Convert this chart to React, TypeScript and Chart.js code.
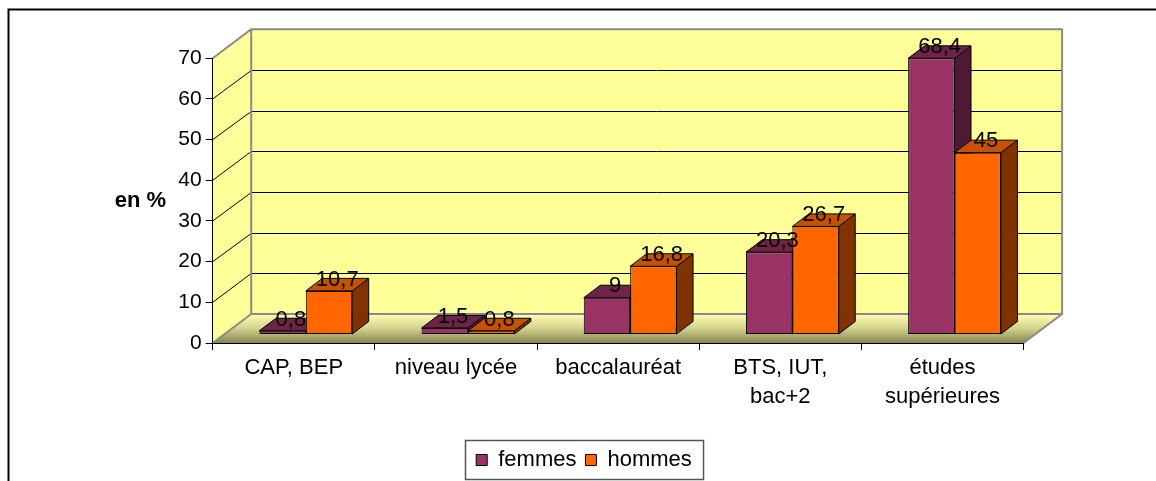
import React, { useEffect, useRef } from "react";
import { Chart, registerables } from "chart.js";

Chart.register(...registerables);

// ---- data ----
const categories: (string | string[])[] = [
  "CAP, BEP",
  "niveau lycée",
  "baccalauréat",
  ["BTS, IUT,", "bac+2"],
  ["études", "supérieures"],
];
const femmes = [0.8, 1.5, 9, 20.3, 68.4];
const hommes = [10.7, 0.8, 16.8, 26.7, 45];
const seriesNames = ["femmes", "hommes"];
const yTickMin = 0;
const yTickMax = 70;
const yTickStep = 10;
const yTitle = "en %";

// ---- styles ----
const FONT = "'Liberation Sans', Arial, sans-serif";
const frontColors = ["#993366", "#FF6600"];
const topColors = ["#6E2449", "#C65200"];
const sideColors = ["#4D1A35", "#803300"];
const WALL_DX = 38.5;
const WALL_DY = -29;
const BAR_SHIFT = 12;
const BAR_DX = 16.5;
const BAR_DY = -12.5;

function poly(ctx: CanvasRenderingContext2D, pts: number[][]) {
  ctx.beginPath();
  ctx.moveTo(pts[0][0], pts[0][1]);
  for (let i = 1; i < pts.length; i++) ctx.lineTo(pts[i][0], pts[i][1]);
  ctx.closePath();
}

const fmt = (v: number) => String(v).replace(".", ",");

const excel3d = {
  id: "excel3d",
  beforeDraw(chart: any) {
    const { ctx, chartArea: a, scales } = chart;
    const y = scales.y;
    const L = a.left;
    const R = a.right;
    const B = y.getPixelForValue(yTickMin);
    const T = y.getPixelForValue(yTickMax);
    ctx.save();
    // outer frame
    ctx.strokeStyle = "#000";
    ctx.lineWidth = 2;
    ctx.beginPath();
    ctx.moveTo(8.5, chart.height + 2);
    ctx.lineTo(8.5, 9.5);
    ctx.lineTo(chart.width + 2, 9.5);
    ctx.stroke();

    // walls
    ctx.fillStyle = "#FFFF99";
    poly(ctx, [[L + WALL_DX, T + WALL_DY], [R + WALL_DX, T + WALL_DY], [R + WALL_DX, B + WALL_DY], [L + WALL_DX, B + WALL_DY]]);
    ctx.fill();
    poly(ctx, [[L, B], [L, T], [L + WALL_DX, T + WALL_DY], [L + WALL_DX, B + WALL_DY]]);
    ctx.fill();
    // floor
    const g = ctx.createLinearGradient(0, B + WALL_DY, 0, B);
    g.addColorStop(0, "#FFFFB4");
    g.addColorStop(0.5, "#D2D28C");
    g.addColorStop(1, "#858554");
    ctx.fillStyle = g;
    poly(ctx, [[L, B], [R, B], [R + WALL_DX, B + WALL_DY], [L + WALL_DX, B + WALL_DY]]);
    ctx.fill();

    // grid lines
    ctx.strokeStyle = "#000";
    ctx.lineWidth = 1;
    for (let v = yTickMin + yTickStep; v < yTickMax; v += yTickStep) {
      const py = y.getPixelForValue(v);
      const by = Math.round(py + WALL_DY) + 0.5;
      ctx.beginPath();
      ctx.moveTo(L, py);
      ctx.lineTo(L + WALL_DX, by);
      ctx.lineTo(R + WALL_DX, by);
      ctx.stroke();
    }
    // wall edges
    ctx.strokeStyle = "#8A8A8A";
    ctx.lineWidth = 2;
    ctx.beginPath();
    ctx.moveTo(L, T);
    ctx.lineTo(L + WALL_DX, T + WALL_DY);
    ctx.lineTo(R + WALL_DX, T + WALL_DY);
    ctx.lineTo(R + WALL_DX, B + WALL_DY);
    ctx.lineTo(R, B);
    ctx.moveTo(L + WALL_DX, T + WALL_DY);
    ctx.lineTo(L + WALL_DX, B + WALL_DY);
    ctx.lineTo(R + WALL_DX, B + WALL_DY);
    ctx.moveTo(L, B);
    ctx.lineTo(L + WALL_DX, B + WALL_DY);
    ctx.stroke();
    ctx.restore();
  },
  beforeDatasetsDraw(chart: any) {
    const ctx = chart.ctx;
    ctx.save();
    ctx.strokeStyle = "#000";
    ctx.lineWidth = 1;
    chart.data.datasets.forEach((_ds: any, di: number) => {
      const meta = chart.getDatasetMeta(di);
      meta.data.forEach((el: any) => {
        const { x, y, base, width } = el.getProps(["x", "y", "base", "width"], true);
        const l = x - width / 2 + BAR_SHIFT;
        const r = x + width / 2 + BAR_SHIFT;
        ctx.fillStyle = sideColors[di];
        poly(ctx, [[r, y], [r + BAR_DX, y + BAR_DY], [r + BAR_DX, base + BAR_DY], [r, base]]);
        ctx.fill();
        ctx.stroke();
        ctx.fillStyle = topColors[di];
        poly(ctx, [[l, y], [r, y], [r + BAR_DX, y + BAR_DY], [l + BAR_DX, y + BAR_DY]]);
        ctx.fill();
        ctx.stroke();
      });
    });
    ctx.restore();
    ctx.save();
    ctx.translate(BAR_SHIFT, 0);
  },
  afterDatasetsDraw(chart: any) {
    const ctx = chart.ctx;
    ctx.restore();
    ctx.save();
    ctx.fillStyle = "#000";
    ctx.font = `22px ${FONT}`;
    ctx.textAlign = "center";
    ctx.textBaseline = "alphabetic";
    chart.data.datasets.forEach((ds: any, di: number) => {
      const meta = chart.getDatasetMeta(di);
      meta.data.forEach((el: any, i: number) => {
        const { x, y } = el.getProps(["x", "y"], true);
        ctx.fillText(fmt(ds.data[i]), x + BAR_SHIFT + BAR_DX / 2, y + BAR_DY / 2 + 1);
      });
    });
    ctx.restore();
  },
  afterDraw(chart: any) {
    const ctx = chart.ctx;
    ctx.save();
    // y title
    ctx.fillStyle = "#000";
    ctx.font = `bold 22px ${FONT}`;
    ctx.textAlign = "center";
    ctx.textBaseline = "alphabetic";
    ctx.fillText(yTitle, 140.5, 207);
    // legend border
    const lg = chart.legend;
    if (lg && lg.legendHitBoxes && lg.legendHitBoxes.length) {
      const hb = lg.legendHitBoxes;
      const first = hb[0];
      const last = hb[hb.length - 1];
      const left = Math.round(first.left - 11) + 0.5;
      const right = Math.round(last.left + last.width + 11) + 0.5;
      ctx.strokeStyle = "#555";
      ctx.lineWidth = 1.5;
      ctx.strokeRect(left, Math.round(lg.top) + 0.5, right - left, 39);
    }
    ctx.restore();
  },
};

export default function App() {
  const ref = useRef<HTMLCanvasElement | null>(null);
  useEffect(() => {
    if (!ref.current) return;
    const chart = new Chart(ref.current, {
      type: "bar",
      data: {
        labels: categories as any,
        datasets: [
          {
            label: seriesNames[0],
            data: femmes,
            backgroundColor: frontColors[0],
            borderColor: "#000",
            borderWidth: 1,
            borderSkipped: false,
            yAxisID: "yBar",
            xAxisID: "x",
            barPercentage: 1,
            categoryPercentage: 0.572,
            clip: false as any,
          },
          {
            label: seriesNames[1],
            data: hommes,
            backgroundColor: frontColors[1],
            borderColor: "#000",
            borderWidth: 1,
            borderSkipped: false,
            yAxisID: "yBar",
            xAxisID: "x",
            barPercentage: 1,
            categoryPercentage: 0.572,
            clip: false as any,
          },
        ],
      },
      options: {
        animation: false,
        responsive: true,
        maintainAspectRatio: false,
        layout: { padding: { left: 12, right: 0, top: 58.3, bottom: 0 } },
        font: { family: FONT } as any,
        plugins: {
          legend: {
            position: "bottom",
            labels: {
              color: "#000",
              font: { size: 22, family: FONT },
              boxWidth: 11,
              boxHeight: 11,
              padding: 9,
            },
          },
          tooltip: { enabled: false },
        },
        scales: {
          x: {
            type: "category",
            ticks: {
              color: "#000",
              font: { size: 22, family: FONT, lineHeight: 1.32 },
              padding: 3,
              maxRotation: 0,
              autoSkip: false,
            },
            grid: { drawOnChartArea: false, drawTicks: true, tickLength: 7, color: "#000", offset: true },
            border: { color: "#000", width: 1 },
            afterFit: (s: any) => {
              s.height = 97;
            },
          },
          y: {
            type: "linear",
            position: "left",
            min: yTickMin,
            max: yTickMax,
            ticks: { stepSize: yTickStep, color: "#000", font: { size: 21, family: FONT }, padding: 4 },
            grid: { drawOnChartArea: false, drawTicks: true, tickLength: 7, color: "#000" },
            border: { color: "#000", width: 1 },
            afterFit: (s: any) => {
              s.width = 200.7;
            },
          },
          yBar: {
            type: "linear",
            position: "right",
            bounds: "data",
            min: -2.233,
            max: 68.41,
            ticks: { display: false },
            grid: { display: false },
            border: { display: false },
            afterFit: (s: any) => {
              s.width = 132.4;
            },
          },
        },
      } as any,
      plugins: [excel3d],
    });
    return () => chart.destroy();
  }, []);
  return (
    <div style={{ position: "absolute", left: 0, top: 0, width: 1156, height: 481, background: "#fff" }}>
      <canvas ref={ref} />
    </div>
  );
}
